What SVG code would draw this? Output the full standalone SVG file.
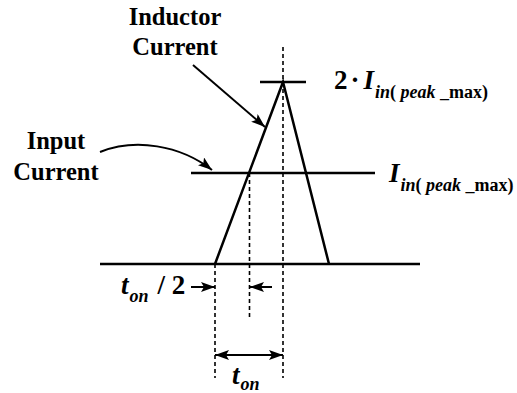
<svg xmlns="http://www.w3.org/2000/svg" width="517" height="393" viewBox="0 0 517 393">
<defs>
<marker id="ah" viewBox="0 0 14 10" refX="14" refY="5" markerWidth="14" markerHeight="10" markerUnits="userSpaceOnUse" orient="auto-start-reverse">
<path d="M0,0 L14,5 L0,10 L3,5 Z" fill="#000"/>
</marker>
<style>
.s{stroke:#000;stroke-width:2.5;fill:none}
.d{stroke:#000;stroke-width:1.6;fill:none;stroke-dasharray:4,3}
.a{stroke:#000;stroke-width:2;fill:none}
text{font-family:"Liberation Serif","Times New Roman",serif;font-weight:bold;fill:#000}
.lb{font-size:24.5px;text-anchor:middle}
.m{font-size:27px}
.sb{font-size:18px}
.i{font-style:italic}
</style>
</defs>
<rect width="517" height="393" fill="#fff"/>
<g id="connectors">
<line class="d" x1="283" y1="47" x2="283" y2="378"/>
<line class="d" x1="215" y1="264" x2="215" y2="378"/>
<line class="d" x1="249.5" y1="173" x2="249.5" y2="320"/>
<line class="s" x1="100" y1="264" x2="420" y2="264"/>
<line class="s" x1="191" y1="173" x2="375" y2="173"/>
<line class="s" x1="260" y1="82" x2="306" y2="82"/>
<polyline class="s" points="215,264 283,82 329,264"/>
<line class="a" x1="193" y1="65" x2="265" y2="127" marker-end="url(#ah)"/>
<path class="a" d="M100,152 C135,138 180,145 212,170" marker-end="url(#ah)"/>
<line class="a" x1="191" y1="287" x2="215" y2="287" marker-end="url(#ah)"/>
<line class="a" x1="272" y1="287" x2="250" y2="287" marker-end="url(#ah)"/>
<line class="a" x1="215" y1="355" x2="283" y2="355" marker-start="url(#ah)" marker-end="url(#ah)"/>
</g>
<g id="inductor-label"><text class="lb" x="175" y="25">Inductor</text><text class="lb" x="175" y="55">Current</text></g>
<g id="input-label"><text class="lb" x="56" y="149">Input</text><text class="lb" x="56" y="180">Current</text></g>
<g id="peak2-label"><text class="m" x="334" y="89">2<tspan dx="3">·</tspan><tspan class="i" dx="4">I</tspan><tspan class="sb" dy="9" dx="1"><tspan class="i">in</tspan>( <tspan class="i">peak</tspan> _max)</tspan></text></g>
<g id="peak-label"><text class="m" x="389" y="182"><tspan class="i">I</tspan><tspan class="sb" dy="9" dx="1"><tspan class="i">in</tspan>( <tspan class="i">peak</tspan> _max)</tspan></text></g>
<g id="ton2-label"><text class="m" x="121" y="294"><tspan class="i">t</tspan><tspan class="sb i" dy="8" dx="1">on</tspan><tspan dy="-8" dx="9">/ 2</tspan></text></g>
<g id="ton-label"><text class="m" x="232" y="384"><tspan class="i">t</tspan><tspan class="sb i" dy="6" dx="1">on</tspan></text></g>
</svg>
